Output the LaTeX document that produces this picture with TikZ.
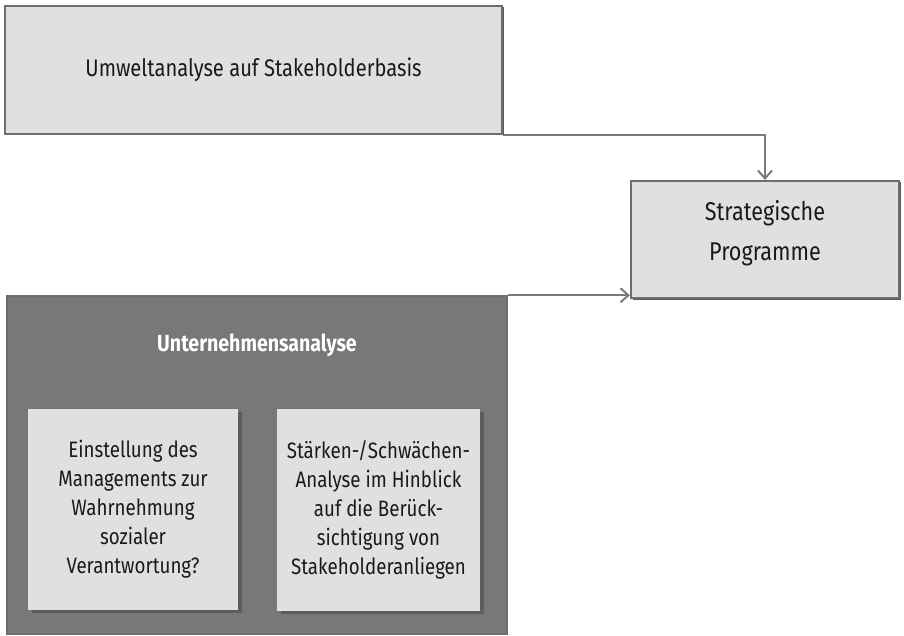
\documentclass[tikz,border=0pt]{standalone}
\usepackage{fontspec}
\setmainfont[FakeStretch=0.84]{Fira Sans}
\usetikzlibrary{arrows.meta,shadows}
\definecolor{boxfill}{HTML}{E0E0E0}
\definecolor{boxline}{HTML}{6E6E6E}
\definecolor{darkfill}{HTML}{787878}
\definecolor{shade}{HTML}{5C5C5C}
\definecolor{linkcol}{HTML}{7A7A7A}
\definecolor{txt}{HTML}{1A1A1A}
\tikzset{
  lightbox/.style={draw=boxline, line width=2pt, fill=boxfill, rectangle,
    align=center, text=txt, font=\fontsize{24}{29}\selectfont, inner sep=0pt,
    drop shadow={shadow xshift=1.5pt, shadow yshift=-1.5pt, fill=shade, opacity=1}},
  outerbox/.style={draw=boxline, line width=1.5pt, fill=darkfill, rectangle, inner sep=0pt},
  innerbox/.style={fill=boxfill, rectangle, align=center, text=txt,
    font=\fontsize{22.3}{29}\selectfont, inner sep=0pt,
    drop shadow={shadow xshift=4pt, shadow yshift=-3pt, fill=shade, opacity=1}},
  titletext/.style={text=white, font=\fontsize{23.3}{29}\selectfont\bfseries},
  plaintext/.style={text=txt, align=center, font=\fontsize{25.7}{40}\selectfont},
  link/.style={draw=linkcol, line width=2pt,
    -{Straight Barb[length=8pt, width=14pt, line width=2pt]}}
}
\begin{document}
\begin{tikzpicture}[x=1pt, y=-1pt]
  \useasboundingbox (0,0) rectangle (904,636);
  % upper input: environment analysis
  \node[lightbox, minimum width=497pt, minimum height=128pt] (env) at (253.5,70)
    {Umweltanalyse auf Stakeholderbasis};
  % result box, its two lines set wider apart
  \node[lightbox, minimum width=268pt, minimum height=117pt] (prog) at (765,239.5) {};
  \node[plaintext] (progtext) at (765,233) {Strategische\\Programme};
  % lower input: company analysis with two parts
  \node[outerbox, minimum width=500pt, minimum height=338pt] (comp) at (257,465) {};
  \node[titletext] (comptitle) at (257,345) {Unternehmensanalyse};
  \node[innerbox, minimum width=210pt, minimum height=201pt] (mgmt) at (133,509.5)
    {Einstellung des\\Managements zur\\Wahrnehmung\\sozialer\\Verantwortung?};
  \node[innerbox, minimum width=203pt, minimum height=202pt] (swot) at (378.5,510)
    {Stärken-/Schwächen-\\Analyse im Hinblick\\auf die Berück-\\sichtigung von\\Stakeholderanliegen};
  % connectors
  \draw[link] (env.south east) -| (prog.north);
  \draw[link] (comp.north east) -- (comp.north east -| prog.west);
\end{tikzpicture}
\end{document}
